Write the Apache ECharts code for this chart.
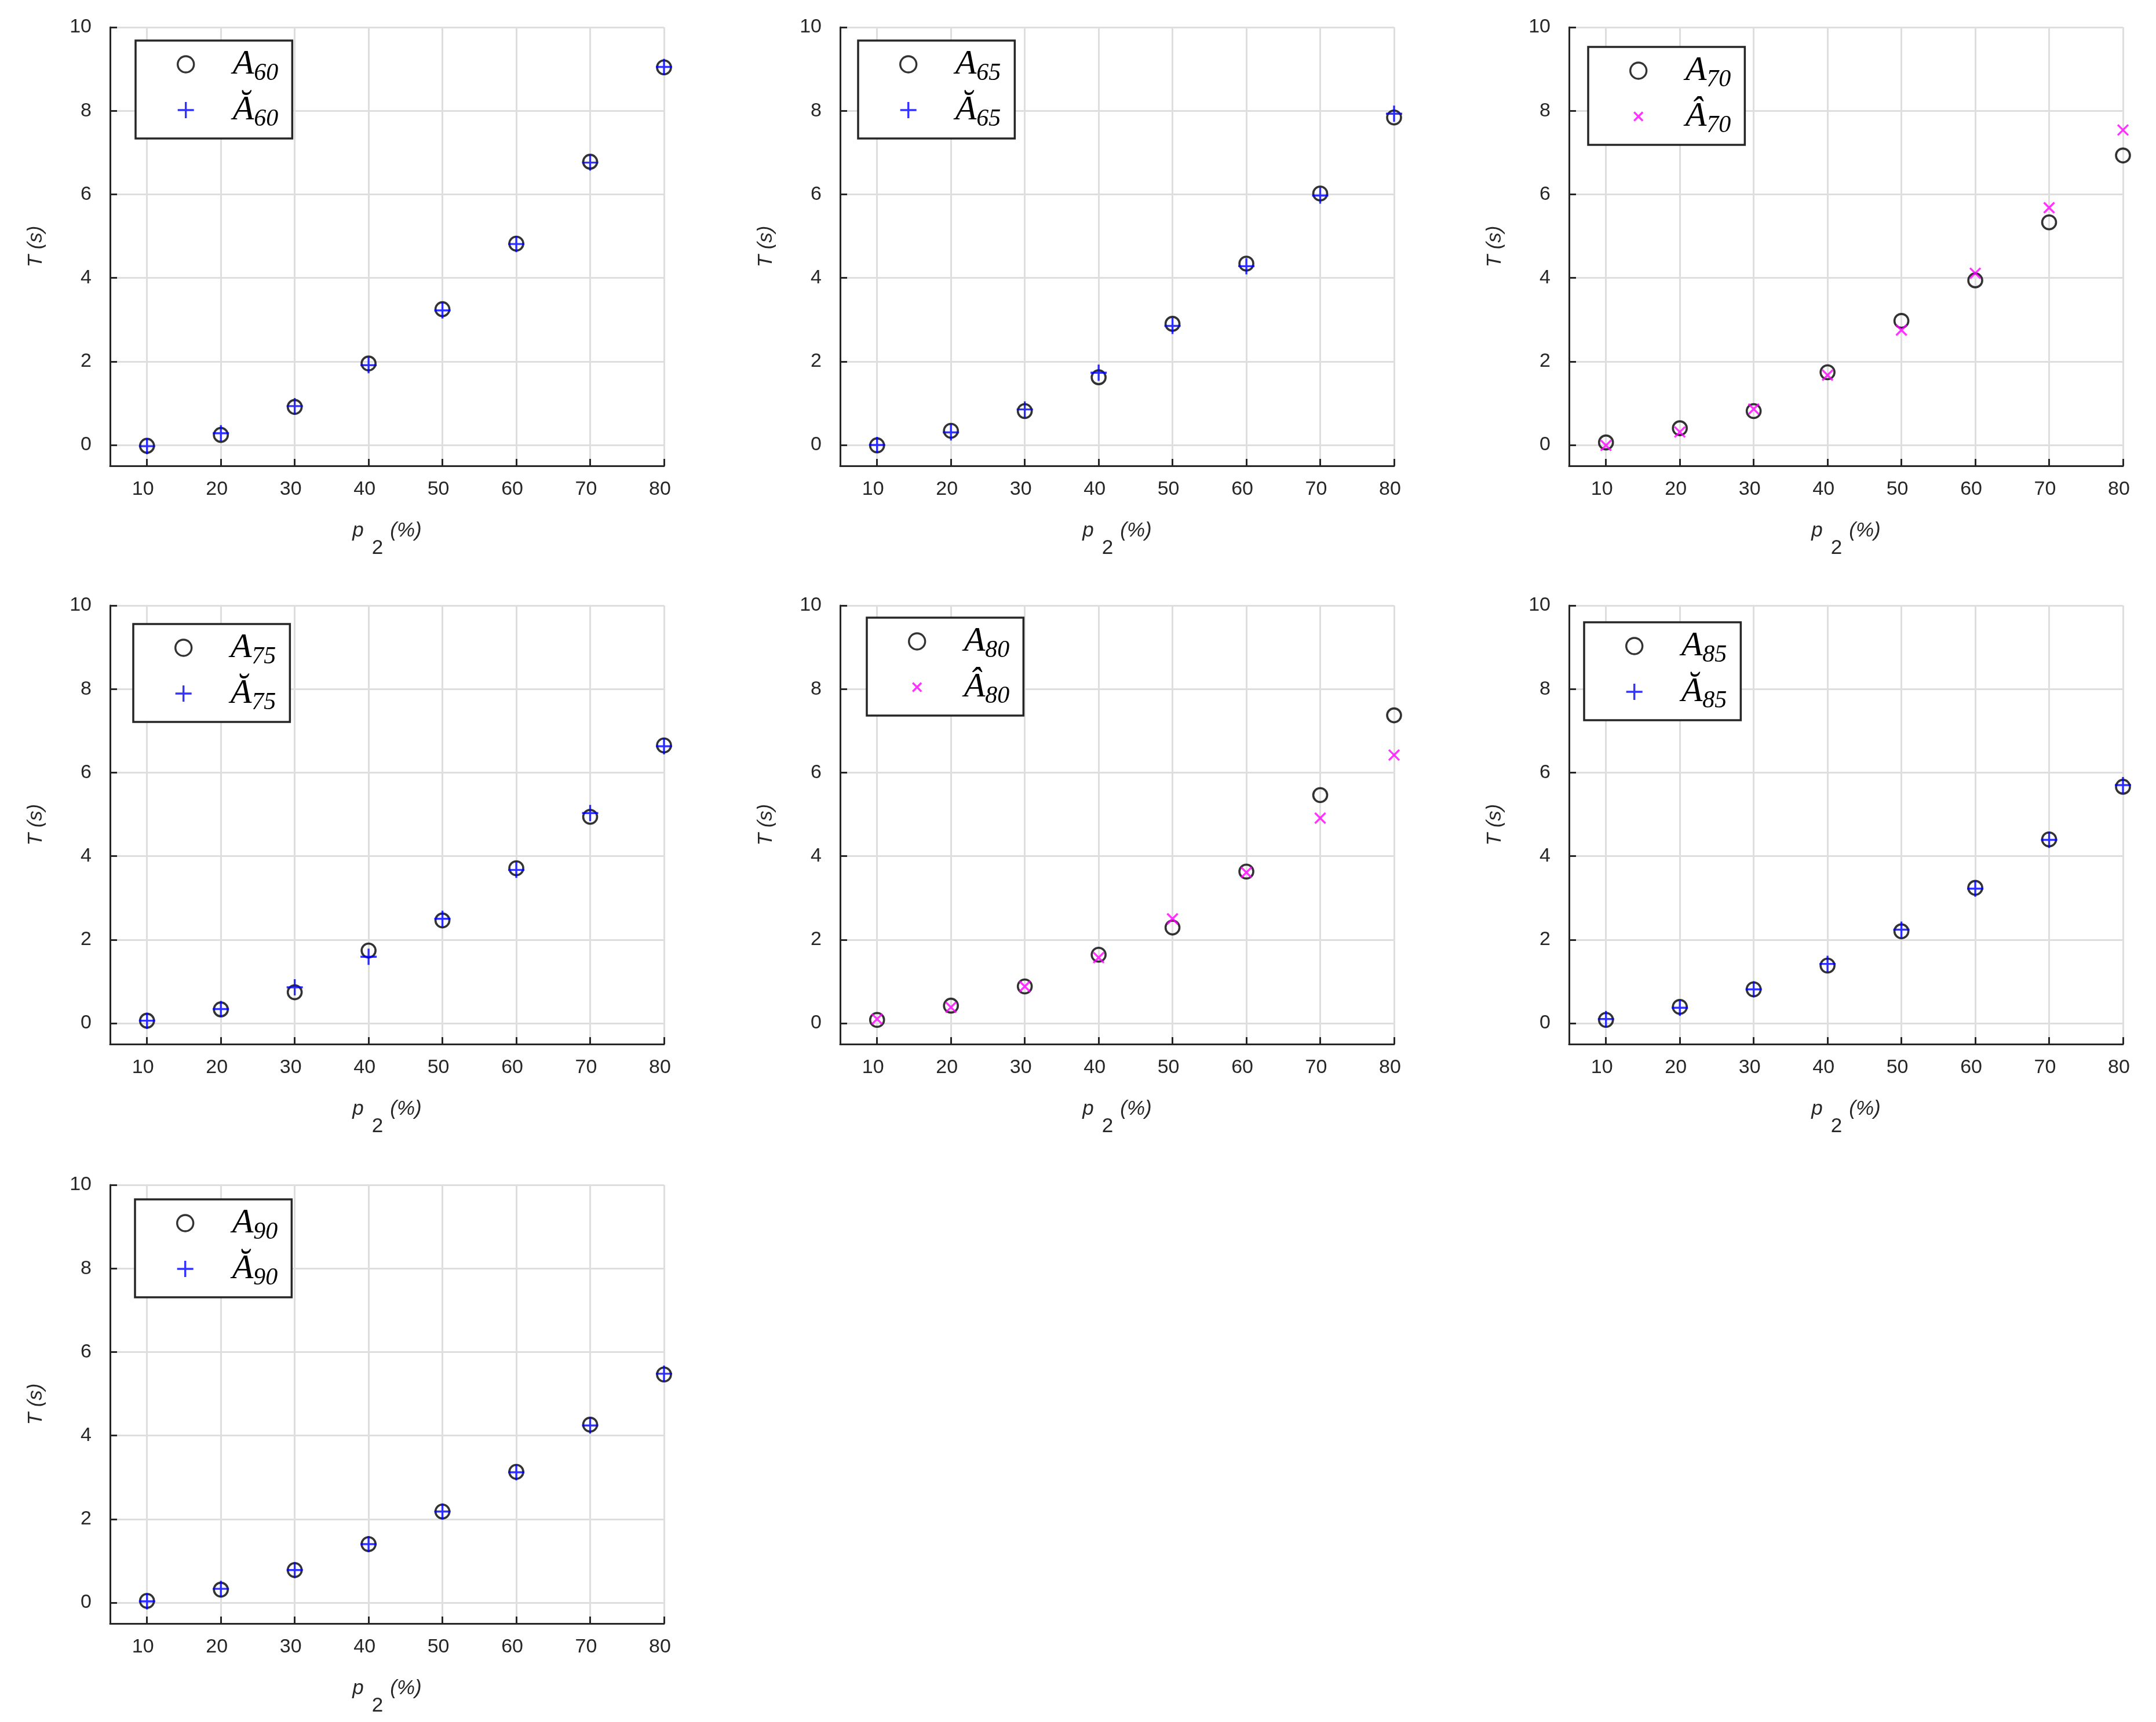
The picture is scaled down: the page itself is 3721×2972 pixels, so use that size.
<!DOCTYPE html>
<html><head><meta charset="utf-8">
<script src="https://cdn.jsdelivr.net/npm/echarts@6/dist/echarts.min.js"></script>
<style>html,body{margin:0;padding:0;background:#fff}#c{width:3721px;height:2972px}</style>
</head><body><div id="c"></div>
<script>
// ---- data ----
const p2Values = [10, 20, 30, 40, 50, 60, 70, 80];
const xTicks = [10, 20, 30, 40, 50, 60, 70, 80];
const yTicks = [0, 2, 4, 6, 8, 10];
const panelIds = ['60', '65', '70', '75', '80', '85', '90'];
const estimateKinds = ['breve', 'breve', 'hat', 'breve', 'hat', 'breve', 'breve'];

const A60 = [-0.02, 0.24, 0.91, 1.95, 3.25, 4.82, 6.78, 9.04];
const A60est = [-0.03, 0.28, 0.93, 1.91, 3.22, 4.81, 6.76, 9.05];
const A65 = [-0.01, 0.34, 0.81, 1.62, 2.90, 4.34, 6.02, 7.84];
const A65est = [0.00, 0.30, 0.85, 1.73, 2.85, 4.28, 5.97, 7.93];
const A70 = [0.06, 0.40, 0.81, 1.74, 2.97, 3.94, 5.33, 6.93];
const A70est = [-0.01, 0.31, 0.86, 1.67, 2.75, 4.11, 5.68, 7.54];
const A75 = [0.06, 0.33, 0.74, 1.74, 2.46, 3.71, 4.94, 6.65];
const A75est = [0.06, 0.34, 0.86, 1.59, 2.50, 3.67, 5.03, 6.63];
const A80 = [0.08, 0.42, 0.88, 1.64, 2.29, 3.63, 5.46, 7.37];
const A80est = [0.10, 0.38, 0.88, 1.57, 2.50, 3.61, 4.91, 6.42];
const A85 = [0.08, 0.39, 0.81, 1.38, 2.20, 3.24, 4.40, 5.66];
const A85est = [0.10, 0.37, 0.81, 1.42, 2.24, 3.22, 4.39, 5.70];
const A90 = [0.04, 0.31, 0.78, 1.40, 2.18, 3.13, 4.26, 5.46];
const A90est = [0.03, 0.33, 0.78, 1.40, 2.18, 3.12, 4.24, 5.48];

const actualSeries = [A60, A65, A70, A75, A80, A85, A90];
const estimateSeries = [A60est, A65est, A70est, A75est, A80est, A85est, A90est];

// ---- layout (pixels) ----
const gridLayout = [
  {left: 190, top: 47}, {left: 1450, top: 47}, {left: 2708, top: 47},
  {left: 190, top: 1045}, {left: 1450, top: 1045}, {left: 2708, top: 1045},
  {left: 190, top: 2045}
];
const legendOffset = [[44, 23], [31, 23], [33, 34], [40, 32], [46, 21], [26, 29], [43, 25]];
const GRID_W = 956, GRID_H = 757;

const INK = '#262626';
const PLUS = 'path://M0,-10L0,10M-10,0L10,0';
const CROSS = 'path://M-10,-10L10,10M-10,10L10,-10';
const CROSS_LEG = 'path://M-15,-15M15,15M-8,-8L8,8M-8,8L8,-8';

const pairs = p => p2Values.map((x, i) => [x, p[i]]);

const grids = [], xAxes = [], yAxes = [], series = [], legends = [];

panelIds.forEach((id, k) => {
  const g = gridLayout[k];
  grids.push({left: g.left, top: g.top, width: GRID_W, height: GRID_H, outerBoundsMode: 'none', containLabel: false});
  xAxes.push({
    gridIndex: k, type: 'value', min: 5, max: 80,
    axisLine: {onZero: false, lineStyle: {color: INK, width: 3}},
    axisTick: {inside: true, length: 12, customValues: xTicks, lineStyle: {color: INK, width: 3}},
    axisLabel: {customValues: xTicks, margin: 24, fontSize: 34, color: INK, fontFamily: 'Liberation Sans', padding: [0, 14, 0, 0]},
    splitLine: {show: true, lineStyle: {color: '#dedede', width: 3}},
    name: '{i|p}{s|2}{i|(%)}', nameLocation: 'middle', nameGap: 92,
    nameTextStyle: {
      color: INK, fontFamily: 'Liberation Sans',
      rich: {
        i: {fontSize: 35, fontStyle: 'italic', height: 40, lineHeight: 40, verticalAlign: 'top', color: INK, fontFamily: 'Liberation Sans'},
        s: {fontSize: 35, height: 40, lineHeight: 70, padding: [0, 12, 0, 14], verticalAlign: 'bottom', color: INK, fontFamily: 'Liberation Sans'}
      }
    }
  });
  yAxes.push({
    gridIndex: k, type: 'value', min: -0.5, max: 10,
    axisLine: {onZero: false, lineStyle: {color: INK, width: 3}},
    axisTick: {inside: true, length: 12, customValues: yTicks, lineStyle: {color: INK, width: 3}},
    axisLabel: {customValues: yTicks, margin: 32, fontSize: 34, color: INK, fontFamily: 'Liberation Sans', padding: [0, 0, 17, 0]},
    splitLine: {show: true, lineStyle: {color: '#dedede', width: 3}},
    name: 'T (s)', nameLocation: 'middle', nameGap: 110,
    nameTextStyle: {fontSize: 35, fontStyle: 'italic', color: INK, fontFamily: 'Liberation Sans'}
  });
  const hat = estimateKinds[k] === 'hat';
  const nameA = 'A' + id, nameE = (hat ? 'Â' : 'Ă') + id;
  series.push({
    type: 'scatter', name: nameA, xAxisIndex: k, yAxisIndex: k, data: pairs(actualSeries[k]),
    symbol: 'circle', symbolSize: 24, clip: false, z: 2,
    itemStyle: {color: 'rgba(0,0,0,0)', borderColor: '#000', borderWidth: 3.6},
    emphasis: {disabled: true}
  });
  series.push({
    type: 'scatter', name: nameE, xAxisIndex: k, yAxisIndex: k, data: pairs(estimateSeries[k]),
    symbol: hat ? CROSS : PLUS, symbolSize: hat ? 18 : 28, clip: false, z: 3,
    itemStyle: {color: 'rgba(0,0,0,0)', borderColor: hat ? '#ff00ff' : '#0000ff', borderWidth: 3.4},
    emphasis: {disabled: true}
  });
  legends.push({
    orient: 'vertical', left: g.left + legendOffset[k][0], top: g.top + legendOffset[k][1],
    padding: [11, 24, 12, 71], itemGap: 12, itemWidth: 28, itemHeight: 28,
    backgroundColor: '#fff', borderColor: INK, borderWidth: 3.5, borderRadius: 0,
    selectedMode: false,
    data: [
      {name: nameA, icon: 'circle', itemStyle: {color: 'rgba(0,0,0,0)', borderColor: '#000', borderWidth: 3.4}},
      {name: nameE, icon: hat ? CROSS_LEG : PLUS, itemStyle: {color: 'rgba(0,0,0,0)', borderColor: hat ? '#ff00ff' : '#0000ff', borderWidth: 3.4}}
    ],
    formatter: n => '{sp| }{a|' + n.slice(0, 1) + '}{s|' + n.slice(1) + '}',
    textStyle: {
      color: '#000',
      rich: {
        sp: {width: 62, fontSize: 10},
        a: {fontSize: 60, fontStyle: 'italic', fontFamily: 'Liberation Serif', lineHeight: 60, verticalAlign: 'middle', color: '#000'},
        s: {fontSize: 42, fontStyle: 'italic', fontFamily: 'Liberation Serif', height: 28, lineHeight: 28, verticalAlign: 'bottom', color: '#000'}
      }
    }
  });
});

const chart = echarts.init(document.getElementById('c'), null, {renderer: 'canvas'});
chart.setOption({
  backgroundColor: '#fff',
  animation: false,
  grid: grids, xAxis: xAxes, yAxis: yAxes, series: series, legend: legends
});
</script></body></html>
